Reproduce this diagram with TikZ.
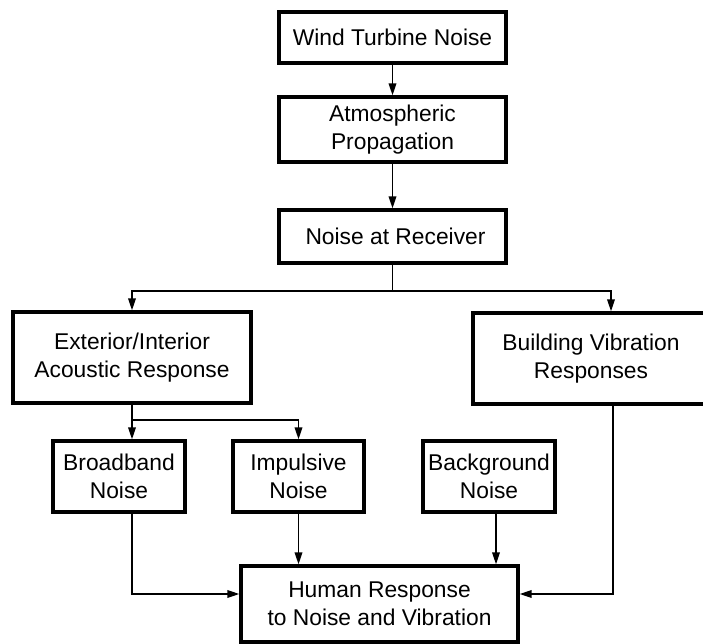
\documentclass[tikz,border=0pt]{standalone}
\usepackage{fontspec}
\setmainfont{Liberation Sans}
\usetikzlibrary{arrows.meta,calc}
\begin{document}
\begin{tikzpicture}[x=1pt,y=-1pt,
  box/.style={draw,line width=3.2pt,align=center,inner sep=0pt,
    font=\fontsize{22.8}{28}\selectfont},
  con/.style={line width=1.8pt},
  arr/.style={con,-{Triangle[length=12pt,width=7.5pt]}}]
\useasboundingbox (0,0) rectangle (703,644);
\node[box,minimum width=227pt,minimum height=51pt] (wind) at (392.5,37.5) {Wind Turbine Noise};
\node[box,minimum width=227pt,minimum height=65pt] (atm) at (392.5,129.5) {Atmospheric\\Propagation};
\node[box,minimum width=227pt,minimum height=53pt] (recv) at (392.5,236.5) {\hspace{6pt}Noise at Receiver};
\node[box,minimum width=238pt,minimum height=91pt] (ext) at (132,357.5) {Exterior/Interior\\Acoustic Response};
\node[box,minimum width=236pt,minimum height=91pt] (bld) at (591,358.5) {Building Vibration\\Responses};
\node[box,minimum width=132pt,minimum height=71pt] (broad) at (119,476.5) {Broadband\\Noise};
\node[box,minimum width=131pt,minimum height=71pt] (imp) at (298.5,476.5) {Impulsive\\Noise};
\node[box,minimum width=132pt,minimum height=71pt] (back) at (489,476.5) {Background\\Noise};
\node[box,minimum width=277pt,minimum height=76pt] (human) at (379.5,604) {Human Response\\to Noise and Vibration};
\draw[arr] (wind.south) -- (atm.north);
\draw[arr] (atm.south) -- (recv.north);
\coordinate (split) at ($(recv.south)+(0,26)$);
\coordinate (bn) at ($(bld.north)+(20,0)$);
\draw[con] (recv.south) -- (split);
\draw[arr] (split) -| (ext.north);
\draw[arr] (split) -| (bn);
\coordinate (esplit) at ($(ext.south)+(0,15)$);
\draw[con] (ext.south) -- (esplit);
\draw[arr] (esplit) -- (esplit |- broad.north);
\draw[arr] (esplit) -| (imp.north);
\coordinate (hw) at ($(human.west)+(0,-10)$);
\coordinate (he) at ($(human.east)+(0,-10)$);
\coordinate (bk) at ($(back.south)+(7,0)$);
\coordinate (bs) at ($(bld.south)+(22,0)$);
\draw[arr] (broad.south -| ext.south) |- (hw);
\draw[arr] (imp.south) -- (imp.south |- human.north);
\draw[arr] (bk) -- (bk |- human.north);
\draw[arr] (bs) |- (he);
\end{tikzpicture}
\end{document}
